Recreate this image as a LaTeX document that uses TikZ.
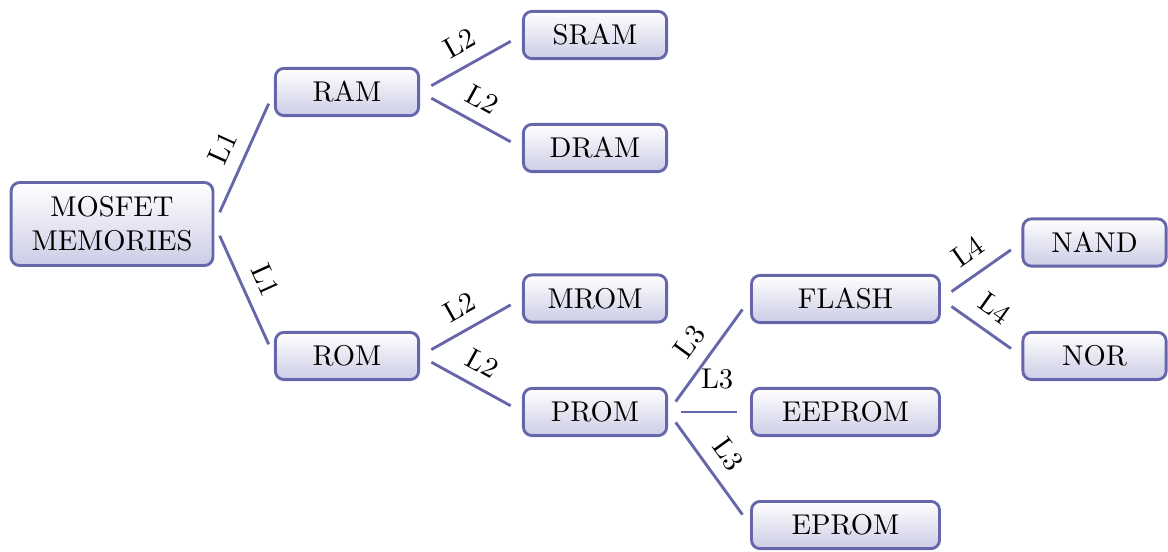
\documentclass[tikz,border=0pt]{standalone}
\usepackage{xcolor}
\usepackage{tikz}
\definecolor{memline}{RGB}{102, 102, 170}
\definecolor{memfill}{RGB}{204, 204, 230}

\begin{document}
\begin{tikzpicture}[scale=1.0,
  mem/.style={rectangle, rounded corners=3pt, draw=memline, line width=1pt, top color=white, bottom color=memfill, minimum width=1.76cm, minimum height=0.58cm, align=center},
  memwide/.style={mem, minimum width=2.31cm},
  link/.style={draw=memline, line width=1pt, shorten >=4.5pt, shorten <=4.5pt},
  lbl/.style={midway, sloped, above=1pt}]
\useasboundingbox (0,0) rectangle (14.349,-6.781);
% Nodes
\node[mem, minimum width=2.48cm, minimum height=1.02cm] (mosfet) at (1.376,-2.752) {MOSFET\\MEMORIES};
\node[mem] (ram) at (4.263,-1.130) {RAM};
\node[mem] (rom) at (4.263,-4.373) {ROM};
\node[mem] (sram) at (7.310,-0.430) {SRAM};
\node[mem] (dram) at (7.310,-1.818) {DRAM};
\node[mem] (mrom) at (7.310,-3.667) {MROM};
\node[mem] (prom) at (7.310,-5.061) {PROM};
\node[memwide] (flash) at (10.387,-3.673) {FLASH};
\node[memwide] (eeprom) at (10.387,-5.061) {EEPROM};
\node[memwide] (eprom) at (10.387,-6.450) {EPROM};
\node[mem] (nand) at (13.446,-2.979) {NAND};
\node[mem] (nor) at (13.446,-4.373) {NOR};

% Edges
\draw[link] (mosfet.east) -- (ram.west) node[lbl] {L1};
\draw[link] (mosfet.east) -- (rom.west) node[lbl] {L1};
\draw[link] (ram.east) -- (sram.west) node[lbl] {L2};
\draw[link] (ram.east) -- (dram.west) node[lbl] {L2};
\draw[link] (rom.east) -- (mrom.west) node[lbl] {L2};
\draw[link] (rom.east) -- (prom.west) node[lbl] {L2};
\draw[link] (prom.east) -- (flash.west) node[lbl] {L3};
\draw[link] (prom.east) -- (eeprom.west) node[lbl, above=3pt, xshift=2.8pt] {L3};
\draw[link] (prom.east) -- (eprom.west) node[lbl] {L3};
\draw[link] (flash.east) -- (nand.west) node[lbl] {L4};
\draw[link] (flash.east) -- (nor.west) node[lbl] {L4};

\end{tikzpicture}
\end{document}
